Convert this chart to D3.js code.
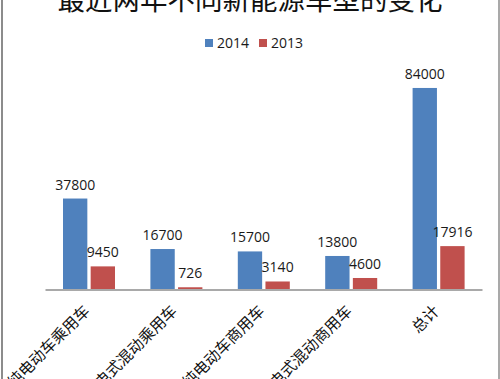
<!DOCTYPE html>
<html><head><meta charset="utf-8">
<script src="https://cdn.jsdelivr.net/npm/d3@7"></script>
<style>body{margin:0;background:#fff}svg{display:block}</style>
</head><body>
<svg id="c" width="500" height="379"></svg>
<script>
const categories = ["纯电动车乘用车","插电式混动乘用车","纯电动车商用车","插电式混动商用车","总计"];
const seriesNames = ["2014","2013"];
const values2014 = [37800,16700,15700,13800,84000];
const values2013 = [9450,726,3140,4600,17916];
const colors = ["#4F81BD","#C0504D"];

const svg = d3.select("#c");
const W=500,H=379;
svg.append("rect").attr("width",W).attr("height",H).attr("fill","#fff");
// border lines
svg.append("line").attr("x1",2).attr("x2",2).attr("y1",0).attr("y2",H).attr("stroke","#8c8c8c").attr("stroke-width",2);
svg.append("line").attr("x1",499).attr("x2",499).attr("y1",0).attr("y2",H).attr("stroke","#8c8c8c").attr("stroke-width",1.5);

const x0 = d3.scaleBand().domain(categories).range([45,482]);
const x1 = d3.scaleBand().domain(seriesNames).range([18,70]).paddingInner(0.12);
const y = d3.scaleLinear().domain([0,90000]).range([289,73.6]);

const data = categories.map((c,i)=>({c, vals:[values2014[i],values2013[i]]}));
const g = svg.append("g");
const grp = g.selectAll("g.cat").data(data).join("g").attr("transform",d=>`translate(${x0(d.c)},0)`);
grp.selectAll("rect").data(d=>d.vals.map((v,j)=>({v,s:seriesNames[j],j}))).join("rect")
  .attr("x",d=>x1(d.s)).attr("width",x1.bandwidth())
  .attr("y",d=>y(d.v)).attr("height",d=>289-y(d.v)).attr("fill",d=>colors[d.j]);
grp.selectAll("text").data(d=>d.vals.map((v,j)=>({v,s:seriesNames[j],j}))).join("text")
  .attr("x",d=>x1(d.s)+x1.bandwidth()/2).attr("y",d=>y(d.v)-9)
  .attr("text-anchor","middle").attr("font-family","Open Sans, sans-serif").attr("font-size",14)
  .attr("fill","#1a1a1a").text(d=>d.v);

// axis
const ax = svg.append("g").attr("transform","translate(0,289.5)")
  .call(d3.axisBottom(x0).tickSize(0).tickFormat(""));
ax.select(".domain").attr("stroke","#8c8c8c").attr("stroke-width",1.5);
svg.selectAll("text.cl").data(categories).join("text").attr("class","cl")
  .attr("transform",d=>`translate(${x0(d)+x0.bandwidth()/2-1},${309}) rotate(-45)`)
  .attr("text-anchor","end").attr("dominant-baseline","middle")
  .attr("font-family","Noto Sans CJK SC").attr("font-size",15.5).attr("fill","#111").text(d=>d);

// title
svg.append("text").attr("x",250).attr("y",10).attr("text-anchor","middle")
  .attr("font-family","Noto Sans CJK SC").attr("font-size",27.5).attr("fill","#111").text("最近两年不同新能源车型的变化");

// legend
const lg = svg.append("g");
const lx=[205,259];
seriesNames.forEach((s,i)=>{
  lg.append("rect").attr("x",lx[i]).attr("y",39).attr("width",8).attr("height",8).attr("fill",colors[i]);
  lg.append("text").attr("x",lx[i]+12).attr("y",48).attr("font-family","Open Sans, sans-serif").attr("font-size",14).attr("fill","#1a1a1a").text(s);
});
</script>
</body></html>
